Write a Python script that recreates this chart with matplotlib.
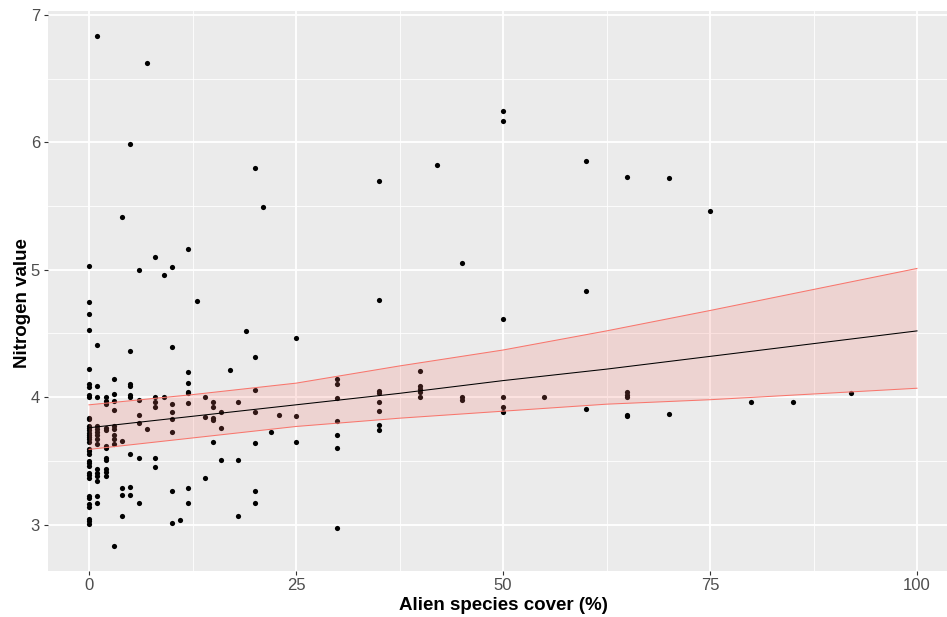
import numpy as np
import matplotlib
matplotlib.use("Agg")
import matplotlib.pyplot as plt
from matplotlib.ticker import MultipleLocator

# ---- data ----
cover_levels = [0, 1, 2, 3, 4, 5, 6, 7, 8, 9, 10, 11, 12, 13, 14, 15, 16, 17, 18, 19,
                20, 21, 22, 23, 25, 30, 35, 40, 42, 45, 50, 55, 60, 65, 70, 75, 80, 85, 92]
nitrogen_by_cover = [
    [5.03, 4.75, 4.65, 4.53, 4.22, 4.10, 4.08, 4.02, 4.00, 3.84, 3.83, 3.77, 3.76, 3.745,
     3.72, 3.705, 3.69, 3.67, 3.645, 3.59, 3.575, 3.555, 3.50, 3.48, 3.46, 3.405, 3.39,
     3.365, 3.225, 3.21, 3.165, 3.14, 3.045, 3.025, 3.005],
    [6.83, 4.41, 4.09, 4.00, 3.77, 3.75, 3.73, 3.705, 3.67, 3.63, 3.44, 3.405, 3.38, 3.34,
     3.225, 3.17],
    [4.00, 3.97, 3.95, 3.76, 3.745, 3.62, 3.60, 3.52, 3.51, 3.44, 3.41, 3.385],
    [4.14, 4.025, 3.97, 3.90, 3.77, 3.75, 3.705, 3.67, 3.63, 2.83],
    [5.41, 3.655, 3.285, 3.235, 3.07],
    [5.99, 4.36, 4.10, 4.085, 4.02, 4.005, 3.555, 3.295, 3.23],
    [5.00, 3.975, 3.86, 3.80, 3.52, 3.17],
    [6.62, 3.75],
    [5.10, 4.005, 3.96, 3.92, 3.52, 3.45],
    [4.96, 4.00],
    [5.02, 4.39, 3.95, 3.88, 3.83, 3.73, 3.265, 3.01],
    [3.035],
    [5.165, 4.20, 4.115, 4.04, 4.03, 3.955, 3.29, 3.17],
    [4.755],
    [4.005, 3.845, 3.365],
    [3.96, 3.92, 3.835, 3.82, 3.65],
    [3.885, 3.755, 3.505],
    [4.21],
    [3.965, 3.505, 3.065],
    [4.52],
    [5.80, 4.315, 4.06, 3.88, 3.64, 3.26, 3.17],
    [5.49],
    [3.73],
    [3.86],
    [4.465, 3.85, 3.65],
    [4.14, 4.10, 3.99, 3.815, 3.70, 3.60, 2.97],
    [5.70, 4.765, 4.045, 4.03, 3.96, 3.89, 3.785, 3.745],
    [4.205, 4.085, 4.065, 4.04, 4.00],
    [5.82],
    [5.055, 4.005, 3.975],
    [6.245, 6.17, 4.61, 4.005, 3.92, 3.88],
    [4.005],
    [5.855, 4.83, 3.905],
    [5.73, 4.04, 4.02, 4.00, 3.86, 3.85],
    [5.72, 3.87],
    [5.46],
    [3.96],
    [3.96],
    [4.03],
]

# fitted line and confidence band
fit_x = [0, 12.5, 25, 37.5, 50, 62.5, 75, 87.5, 100]
fit_y = [3.76, 3.85, 3.94, 4.03, 4.13, 4.22, 4.32, 4.42, 4.52]
fit_lo = [3.59, 3.68, 3.77, 3.835, 3.89, 3.945, 3.98, 4.025, 4.07]
fit_hi = [3.94, 4.02, 4.11, 4.245, 4.37, 4.52, 4.68, 4.845, 5.01]

x_ticks = [0, 25, 50, 75, 100]
y_ticks = [3, 4, 5, 6, 7]
x_label = "Alien species cover (%)"
y_label = "Nitrogen value"

cover = []
nitrogen = []
for c, vals in zip(cover_levels, nitrogen_by_cover):
    for v in vals:
        cover.append(c)
        nitrogen.append(v)

# ---- figure ----
plt.rcParams['font.family'] = ['Liberation Sans', 'DejaVu Sans']
W, H = 947, 617
fig = plt.figure(figsize=(W / 100, H / 100), dpi=100)
fig.patch.set_facecolor('white')

left_px, right_px, top_px, bottom_px = 47.6, 958.4, 11, 570.5
aw = right_px - left_px
ah = bottom_px - top_px
ax = fig.add_axes([left_px / W, (H - bottom_px) / H, aw / W, ah / H])
ax.set_facecolor('#EBEBEB')
ax.set_xlim(-5, 105)
ax.set_ylim(2.64, 7.03)

for s in ax.spines.values():
    s.set_visible(False)

ax.set_xticks(x_ticks)
ax.set_yticks(y_ticks)
ax.xaxis.set_minor_locator(MultipleLocator(12.5))
ax.yaxis.set_minor_locator(MultipleLocator(0.5))
ax.grid(which='major', color='white', linewidth=1.3, zorder=0)
ax.grid(which='minor', color='white', linewidth=0.6, zorder=0)
ax.set_axisbelow(True)

ax.tick_params(which='major', length=3.0, width=0.8, color='#333333',
               labelsize=12, labelcolor='#4D4D4D', pad=2.5)
ax.tick_params(which='minor', length=0)

ax.scatter(cover, nitrogen, s=14, color='black', linewidths=0, zorder=2)

ax.fill_between(fit_x, fit_lo, fit_hi, facecolor='#F8766D', alpha=0.2,
                edgecolor='none', zorder=3)
ax.plot(fit_x, fit_lo, color='#F8766D', linewidth=0.75, zorder=4)
ax.plot(fit_x, fit_hi, color='#F8766D', linewidth=0.75, zorder=4)
ax.plot(fit_x, fit_y, color='black', linewidth=0.75, zorder=5)

ax.set_xlabel(x_label, fontsize=13.5, fontweight='bold', color='black')
ax.set_ylabel(y_label, fontsize=13.5, fontweight='bold', color='black')
ax.xaxis.set_label_coords((503 - left_px) / aw, -(597 - bottom_px) / ah)
ax.yaxis.set_label_coords((31 - left_px) / aw, (bottom_px - 303) / ah)

fig.savefig('out.png', dpi=100)
